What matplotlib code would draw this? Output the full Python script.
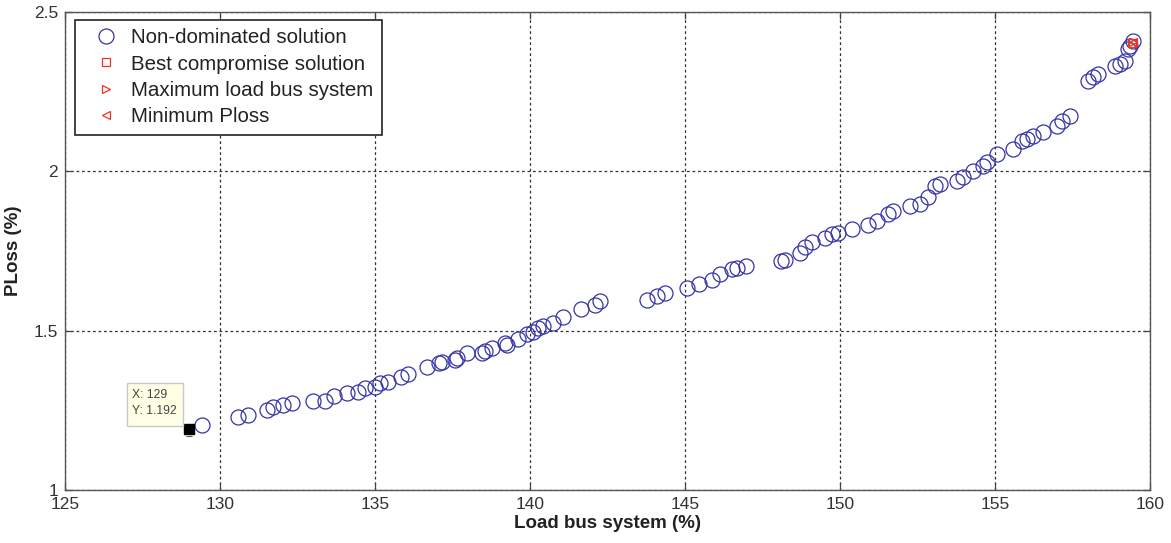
import matplotlib
matplotlib.use("Agg")
import matplotlib.pyplot as plt
from matplotlib.patches import Rectangle

# ---- data ----
load_bus = [129.42, 130.58, 130.90, 131.52, 131.71, 132.03, 132.32, 133.00, 133.39, 133.68,
            134.10, 134.45, 134.68, 135.00, 135.16, 135.42, 135.84, 136.06, 136.68, 137.06,
            137.16, 137.58, 137.65, 137.97, 138.45, 138.55, 138.77, 139.19, 139.26, 139.61,
            139.90, 140.10, 140.26, 140.42, 140.74, 141.06, 141.65, 142.10, 142.26, 143.77,
            144.10, 144.35, 145.06, 145.45, 145.87, 146.13, 146.52, 146.68, 146.97, 148.10,
            148.23, 148.71, 148.87, 149.10, 149.52, 149.74, 149.94, 150.39, 150.90, 151.19,
            151.55, 151.71, 152.26, 152.58, 152.84, 153.06, 153.23, 153.77, 153.97, 154.29,
            154.61, 154.74, 155.06, 155.58, 155.87, 156.03, 156.23, 156.55, 157.00, 157.16,
            157.42, 158.00, 158.16, 158.32, 158.87, 159.03, 159.19, 159.29, 159.35, 159.45]
ploss = [1.204, 1.230, 1.236, 1.252, 1.261, 1.267, 1.274, 1.280, 1.280, 1.296,
         1.305, 1.308, 1.321, 1.324, 1.336, 1.340, 1.355, 1.365, 1.387, 1.399,
         1.403, 1.409, 1.415, 1.431, 1.431, 1.437, 1.447, 1.462, 1.456, 1.475,
         1.491, 1.497, 1.509, 1.516, 1.525, 1.544, 1.569, 1.582, 1.594, 1.597,
         1.610, 1.619, 1.635, 1.648, 1.660, 1.679, 1.695, 1.698, 1.704, 1.720,
         1.723, 1.745, 1.764, 1.777, 1.792, 1.802, 1.808, 1.818, 1.833, 1.843,
         1.865, 1.874, 1.890, 1.896, 1.921, 1.953, 1.959, 1.969, 1.981, 2.000,
         2.016, 2.028, 2.053, 2.069, 2.094, 2.101, 2.110, 2.123, 2.142, 2.157,
         2.173, 2.283, 2.296, 2.305, 2.330, 2.336, 2.346, 2.384, 2.393, 2.409]

best_x, best_y = [159.43], [2.404]
maxload_x, maxload_y = [159.45], [2.405]
minploss_x, minploss_y = [159.45], [2.405]

tip_x, tip_y = 129, 1.192
tip_label = "X: 129\nY: 1.192"

x_ticks = [125, 130, 135, 140, 145, 150, 155, 160]
y_ticks = [1, 1.5, 2, 2.5]
y_tick_labels = ['1', '1.5', '2', '2.5']

# ---- figure ----
plt.rcParams['font.family'] = ['Liberation Sans', 'DejaVu Sans']
fig = plt.figure(figsize=(11.71, 5.43), dpi=100)
ax = fig.add_axes([65/1171, 1-490/543, 1085/1171, 478/543])

blue = '#3434a8'
red = '#ee3322'

ax.plot(load_bus, ploss, linestyle='none', marker='o', markersize=10.8,
        markerfacecolor='none', markeredgecolor=blue, markeredgewidth=0.9,
        label='Non-dominated solution', zorder=3)
ax.plot(best_x, best_y, linestyle='none', marker='s', markersize=5.5,
        markerfacecolor='none', markeredgecolor=red, markeredgewidth=0.9,
        label='Best compromise solution', zorder=4)
ax.plot(maxload_x, maxload_y, linestyle='none', marker='>', markersize=6,
        markerfacecolor='none', markeredgecolor=red, markeredgewidth=0.9,
        label='Maximum load bus system', zorder=4)
ax.plot(minploss_x, minploss_y, linestyle='none', marker='<', markersize=6,
        markerfacecolor='none', markeredgecolor=red, markeredgewidth=0.9,
        label='Minimum Ploss', zorder=4)

# data tip
ax.plot([tip_x], [tip_y], linestyle='none', marker='s', markersize=6.5,
        color='black', zorder=5)
ax.plot([tip_x], [tip_y - 0.022], linestyle='none', marker='_', markersize=5,
        color='#555555', markeredgewidth=0.8, zorder=5)
ax.add_patch(Rectangle((127.0, 1.201), 1.81, 0.135, facecolor='#ffffe6',
                       edgecolor='#c8c8c8', linewidth=1, zorder=6))
ax.text(127.16, 1.272, tip_label, fontsize=8.8, color='#444444',
        ha='left', va='center', linespacing=1.45, zorder=7)

ax.set_xlim(125, 160)
ax.set_ylim(1, 2.5)
ax.set_xticks(x_ticks)
ax.set_yticks(y_ticks)
ax.set_xticklabels([str(t) for t in x_ticks])
ax.set_yticklabels(y_tick_labels)

ax.grid(True, color='#333333', linestyle=(0, (2.2, 2.2)), linewidth=0.9)
ax.set_axisbelow(True)
ax.tick_params(direction='in', top=True, right=True, length=5, width=0.9,
               color='#444444', labelsize=12.5, labelcolor='#333333', pad=5)
for s in ax.spines.values():
    s.set_color('#555555')
    s.set_linewidth(1.0)

ax.set_xlabel('Load bus system (%)', fontsize=13.5, fontweight='bold', labelpad=2,
              color='#222222')
ax.set_ylabel('PLoss (%)', fontsize=13.5, fontweight='bold', color='#222222')
ax.yaxis.set_label_coords(-43/1085, 0.5)

leg = ax.legend(loc='upper left', bbox_to_anchor=(10/1085, 1-8/478),
                borderaxespad=0, fontsize=14.75, frameon=True, fancybox=False,
                edgecolor='#222222', handlelength=2.2, handletextpad=0.15,
                labelspacing=0.36, borderpad=0.4)
leg.get_frame().set_linewidth(1.2)
leg.get_frame().set_alpha(1)
for t in leg.get_texts():
    t.set_color('#222222')

fig.savefig('out.png', dpi=100)
